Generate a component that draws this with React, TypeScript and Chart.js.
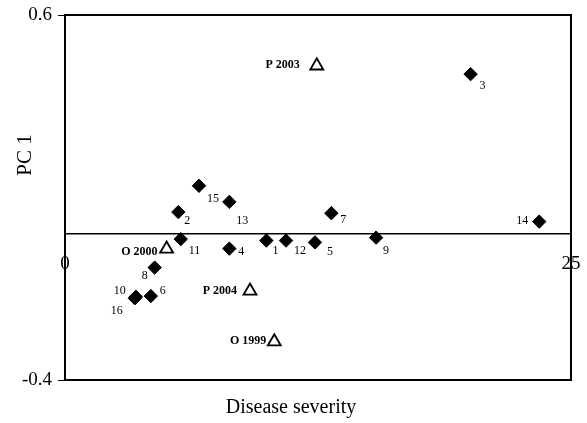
import { useEffect, useRef } from 'react';
import { Chart, registerables } from 'chart.js';

Chart.register(...registerables);

// ---- data ----
const accessionLabels = ['1', '2', '3', '4', '5', '6', '7', '8', '9', '10', '11', '12', '13', '14', '15', '16'];
const accessionSeverity = [9.95, 5.6, 20.04, 8.12, 12.35, 4.24, 13.16, 4.43, 15.37, 3.5, 5.72, 10.92, 8.12, 23.43, 6.62, 3.45];
const accessionPC1 = [-0.018, 0.06, 0.438, -0.04, -0.023, -0.17, 0.057, -0.092, -0.01, -0.172, -0.014, -0.018, 0.088, 0.034, 0.132, -0.176];

const siteYearLabels = ['P 2003', 'O 2000', 'P 2004', 'O 1999'];
const siteYearSeverity = [12.44, 5.02, 9.14, 10.34];
const siteYearPC1 = [0.461, -0.041, -0.156, -0.295];

const xTickValues = [0, 25];
const yTickValues = [-0.4, 0.6];
const xTitle = 'Disease severity';
const yTitle = 'PC 1';

// ---- label placement (layout only) ----
const labelOffsets: Record<string, [number, number]> = {
  '1': [6, 10], '2': [6, 9], '3': [9, 12], '4': [9, 3], '5': [12, 9], '6': [9, -5],
  '7': [9, 7], '8': [-7, 8], '9': [7, 13], '10': [-10, -6], '11': [8, 12], '12': [8, 10],
  '13': [7, 19], '14': [-11, -1], '15': [8, 13], '16': [-12, 13],
  'P 2003': [-17, -1], 'O 2000': [-9, 2.5], 'P 2004': [-13, 0], 'O 1999': [-8, -1],
};

const SERIF = '"Liberation Serif", "Times New Roman", serif';

const decorPlugin = {
  id: 'decor',
  beforeDatasetsDraw(chart: any) {
    const { ctx, chartArea } = chart;
    ctx.save();
    ctx.strokeStyle = '#000';
    ctx.lineWidth = 2;
    ctx.strokeRect(chartArea.left, chartArea.top, chartArea.right - chartArea.left, chartArea.bottom - chartArea.top);
    ctx.restore();
  },
  afterDatasetsDraw(chart: any) {
    const { ctx } = chart;
    ctx.save();
    ctx.fillStyle = '#000';
    ctx.textBaseline = 'middle';
    chart.data.datasets.forEach((ds: any, di: number) => {
      const meta = chart.getDatasetMeta(di);
      const names: string[] = ds.pointNames;
      ctx.font = (ds.boldLabels ? 'bold ' : '') + '12px ' + SERIF;
      meta.data.forEach((el: any, i: number) => {
        const name = names[i];
        const off = labelOffsets[name] || [8, 8];
        ctx.textAlign = off[0] < 0 ? 'right' : 'left';
        ctx.fillText(name, el.x + off[0], el.y + off[1]);
      });
    });
    // axis titles
    ctx.font = '20px ' + SERIF;
    ctx.textAlign = 'center';
    ctx.fillText(xTitle, 291, 408);
    ctx.font = '21px ' + SERIF;
    ctx.translate(25, 155);
    ctx.rotate(-Math.PI / 2);
    ctx.fillText(yTitle, 0, 0);
    ctx.restore();
  },
};

export default function App() {
  const ref = useRef<HTMLCanvasElement>(null);
  useEffect(() => {
    if (!ref.current) return;
    const zeroPad = (s: any) => {
      s.paddingLeft = 0; s.paddingRight = 0; s.paddingTop = 0; s.paddingBottom = 0;
    };
    const chart = new Chart(ref.current, {
      type: 'scatter',
      data: {
        datasets: [
          {
            label: 'Accessions',
            data: accessionSeverity.map((x, i) => ({ x, y: accessionPC1[i] })),
            pointNames: accessionLabels,
            boldLabels: false,
            pointStyle: 'rectRot',
            pointRadius: 6.7,
            pointHoverRadius: 6.7,
            backgroundColor: '#000',
            borderColor: '#000',
            borderWidth: 1,
          } as any,
          {
            label: 'Site-years',
            data: siteYearSeverity.map((x, i) => ({ x, y: siteYearPC1[i] })),
            pointNames: siteYearLabels,
            boldLabels: true,
            pointStyle: 'triangle',
            pointRadius: 7.5,
            pointHoverRadius: 7.5,
            backgroundColor: '#fff',
            borderColor: '#000',
            borderWidth: 1.8,
          } as any,
        ],
      },
      options: {
        animation: false,
        responsive: false,
        devicePixelRatio: 1,
        clip: false as any,
        layout: { padding: { left: 8, top: 15, right: 16, bottom: 43 } },
        plugins: { legend: { display: false }, tooltip: { enabled: false }, title: { display: false } },
        events: [],
        scales: {
          x: {
            type: 'linear',
            min: 0,
            max: 25,
            position: { y: 0 } as any,
            afterBuildTicks: (s: any) => { s.ticks = xTickValues.map((v) => ({ value: v })); },
            afterFit: zeroPad,
            grid: { display: false, drawTicks: false },
            border: { display: true, color: '#000', width: 1.5 },
            ticks: {
              color: '#000',
              font: { family: SERIF, size: 19 },
              padding: 19,
              maxRotation: 0,
              callback: (v: any) => String(v),
            },
          },
          y: {
            type: 'linear',
            min: -0.4,
            max: 0.6,
            position: 'left',
            afterBuildTicks: (s: any) => { s.ticks = yTickValues.map((v) => ({ value: v })); },
            afterFit: (s: any) => { zeroPad(s); s.width = 57; },
            grid: { display: true, drawOnChartArea: false, drawTicks: true, tickLength: 7, color: '#000', lineWidth: 1 },
            border: { display: true, color: '#000', width: 2 },
            ticks: {
              color: '#000',
              font: { family: SERIF, size: 19 },
              padding: 6,
              callback: (v: any) => Number(v).toFixed(1),
            },
          },
        },
      } as any,
      plugins: [decorPlugin],
    });
    return () => chart.destroy();
  }, []);
  return <canvas ref={ref} width={587} height={423} style={{ position: 'fixed', left: 0, top: 0 }} />;
}
